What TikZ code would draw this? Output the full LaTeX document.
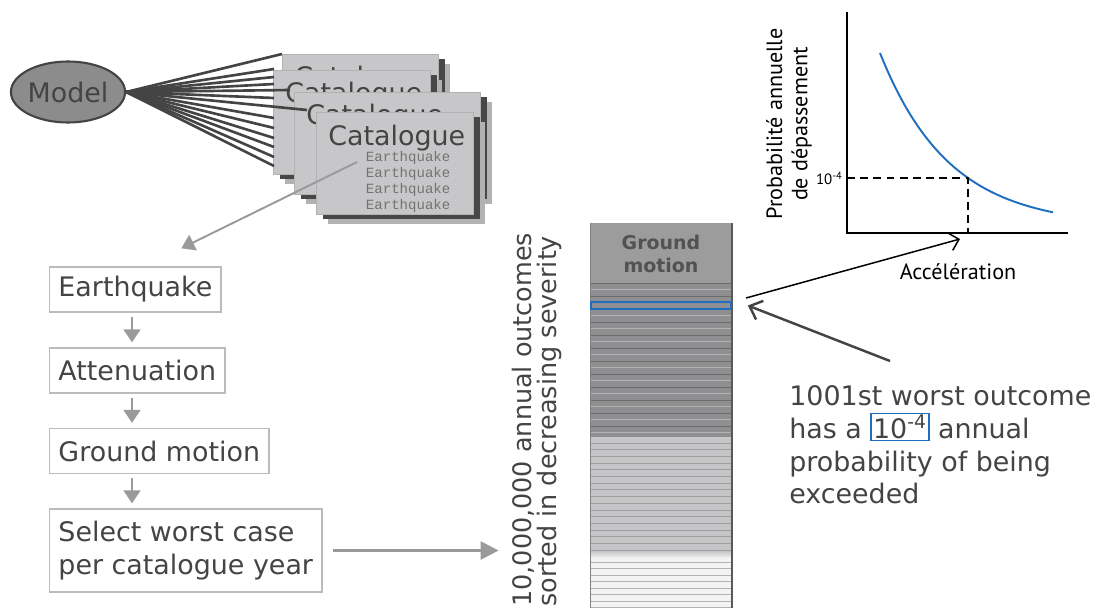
\documentclass[tikz,border=0pt]{standalone}
\usepackage{fontspec}
\setmainfont{DejaVu Sans}
\setmonofont{Liberation Mono}
\newfontfamily\graphfont{PT Sans}
\usetikzlibrary{shapes.geometric, arrows.meta, shadows, positioning, calc}

\definecolor{txt}{HTML}{444444}
\definecolor{boxline}{HTML}{BBBBBB}
\definecolor{arrgray}{HTML}{9A9A9C}
\definecolor{cardfill}{HTML}{C7C7C9}
\definecolor{curveblue}{HTML}{1F6EBF}
\definecolor{stripdark}{HTML}{8F8F91}
\definecolor{striplight}{HTML}{C6C6C8}
\definecolor{stripwhite}{HTML}{F3F3F3}

\tikzset{
  big/.style     = {font=\fontsize{15.3}{18.7}\selectfont, text=txt},
  etape/.style   = {rectangle, draw=boxline, line width=0.8pt, big, anchor=west, inner xsep=5pt, inner ysep=0pt, minimum height=0.9cm, align=left},
  modele/.style  = {ellipse, draw=txt, line width=1.2pt, fill=black!45, big, inner sep=0pt, minimum width=2.28cm, minimum height=1.22cm},
  card/.style    = {rectangle, draw=gray!60, fill=cardfill, anchor=north west, inner sep=0pt,
                    general shadow={fill=gray!60, shadow xshift=0.24cm, shadow yshift=-0.2cm},
                    general shadow={fill=black!72, shadow xshift=0.14cm, shadow yshift=-0.1cm}},
  cattitle/.style= {big, anchor=base west, inner sep=0pt},
  eqlist/.style  = {font=\ttfamily\fontsize{8}{9}\selectfont, text=black!55, anchor=base east, inner sep=0pt},
  fan/.style     = {draw=txt, line width=1.5pt},
  fleche/.style  = {draw=arrgray, line width=1.1pt, -{Triangle[length=0.26cm, width=0.34cm]}},
  entete/.style  = {font=\bfseries\fontsize{10.8}{13.5}\selectfont, text=black!68, align=center, inner sep=0pt},
  worst/.style   = {rectangle, draw=curveblue, line width=0.9pt, inner sep=0pt, minimum width=2.8cm, minimum height=0.14cm},
  axe/.style     = {line width=1.4pt, black},
  graphlbl/.style= {font=\graphfont\fontsize{12.6}{14.4}\selectfont, inner sep=0pt},
  pointe/.style  = {line width=0.85pt, black, -{Straight Barb[length=0.18cm, width=0.36cm]}},
  rappel/.style  = {line width=1.4pt, draw=txt, -{Straight Barb[length=0.22cm, width=0.4cm]}}
}

\begin{document}
\begin{tikzpicture}[x=0.02cm, y=-0.02cm]
  \useasboundingbox (0,0) rectangle (1098,608);

  % modele et catalogues
  \node[modele] (model) at (68,92) {Model};
  \node[card, minimum width=3.12cm, minimum height=2.04cm] (cat1) at (282,54) {};
  \node[cattitle] (ttl1) at ($(cat1.north west)+(12,33)$) {Catalogue};
  \node[card, minimum width=3.14cm, minimum height=2.08cm] (cat2) at (273,70) {};
  \node[cattitle] (ttl2) at ($(cat2.north west)+(12,33)$) {Catalogue};
  \node[card, minimum width=3.72cm, minimum height=2.04cm] (cat3) at (294,92) {};
  \node[cattitle] (ttl3) at ($(cat3.north west)+(12,33)$) {Catalogue};

  \foreach \fx/\fy [count=\i] in {282/54, 274/69, 274/77, 274/84, 290/90, 274/98, 307/110,
                                  274/118, 274/128, 274/138, 274/147, 274/157, 274/166} {
    \coordinate (f\i) at (\fx,\fy);
    \draw[fan] (model.east) -- (f\i);
  }

  \node[card, minimum width=3.14cm, minimum height=2.04cm] (cat4) at (316,112) {};
  \node[cattitle] (ttl4) at ($(cat4.north west)+(12,33)$) {Catalogue};
  \foreach \k in {0,...,3}
    \node[eqlist] (q\k) at ($(cat4.north east)+(-23,49+16*\k)$) {Earthquake};

  % chaine de calcul
  \node[etape] (eq)  at (49,289.5) {Earthquake};
  \node[etape] (att) at (49,370.5) {Attenuation};
  \node[etape] (gm)  at (49,451)   {Ground motion};
  \node[etape, minimum height=1.66cm] (sel) at (49,550.5) {Select worst case\\per catalogue year};

  \coordinate (ax) at (132,0);
  \coordinate (qsrc) at (357,162);
  \coordinate (qtip) at ($(eq.north)+(46,-18)$);
  \draw[fleche] (qsrc) -- (qtip);
  \draw[fleche, shorten <=0.08cm, shorten >=0.1cm] (eq.south -| ax) -- (att.north -| ax);
  \draw[fleche, shorten <=0.08cm, shorten >=0.1cm] (att.south -| ax) -- (gm.north -| ax);
  \draw[fleche, shorten <=0.08cm, shorten >=0.1cm] (gm.south -| ax) -- (sel.north -| ax);

  \node[font=\fontsize{14.5}{14.5}\selectfont, text=txt, rotate=90, anchor=west, align=left, inner sep=0pt]
    (outc) at (537,607) {10,000,000 annual outcomes\\sorted in decreasing severity};
  \draw[fleche, line width=1.4pt, -{Triangle[length=0.36cm, width=0.36cm]}, shorten <=0.2cm, shorten >=0.26cm]
    (sel.east) -- (sel.east -| outc.north);

  % colonne triee
  \fill[black!39] (590,223) rectangle (732,283);
  \fill[stripdark] (590,283) rectangle (732,437);
  \foreach \yy in {283,296,...,437} \draw[black!58, line width=0.5pt] (590,\yy) -- (732,\yy);
  \foreach \yy in {289.5,302.5,...,437} \draw[black!30, line width=0.5pt] (590,\yy) -- (732,\yy);
  \fill[striplight] (590,437) rectangle (732,551);
  \foreach \yy in {443,449.7,...,551} \draw[black!38, line width=0.5pt] (590,\yy) -- (732,\yy);
  \shade[top color=striplight, bottom color=stripwhite] (590,551) rectangle (732,558);
  \fill[stripwhite] (590,558) rectangle (732,608);
  \foreach \yy in {562,568.5,...,608} \draw[black!30, line width=0.5pt] (590,\yy) -- (732,\yy);
  \draw[black!50, line width=0.5pt] (590,223) -- (590,608);
  \draw[black!65, line width=0.6pt] (732,223) -- (732,608);
  \node[entete] (gmhead) at (661,254) {Ground\\motion};
  \node[worst] (worst) at (661,305.5) {};

  % courbe de depassement
  \coordinate (ytop) at (847,12);
  \coordinate (orig) at (847,233);
  \coordinate (xend) at (1068,233);
  \coordinate (p4) at (968,178);
  \draw[axe] (ytop) -- (orig) -- (xend);
  \draw[curveblue, line width=1.1pt] plot[domain=0:173, samples=60, smooth] ({880+\x},{226.4-173.4*exp(-0.0145*\x)});
  \draw[dashed, dash pattern=on 4.5pt off 3pt, line width=0.6pt] (p4 -| orig) -- (p4) -- (p4 |- orig);
  \node[graphlbl, font=\graphfont\fontsize{8.5}{9}\selectfont, anchor=east] (lbl4) at (843,178) {10\textsuperscript{-4}};
  \node[graphlbl, rotate=90, align=center] (ylbl) at (789,124) {Probabilité annuelle\\de dépassement};
  \node[graphlbl] (xlbl) at (958,272) {Accélération};

  \coordinate (blk) at (746,298);
  \coordinate (acc) at (960,239);
  \draw[pointe] (blk) -- (acc);

  % commentaire
  \node[big, anchor=north west, align=left, inner sep=0pt] (note) at (789,385)
    {1001st worst outcome\\has a {\setlength\fboxsep{0.6pt}\setlength\fboxrule{0.9pt}\fcolorbox{curveblue}{white}{10\textsuperscript{-4}}} annual\\probability of being\\exceeded};
  \coordinate (nsrc) at (890,361);
  \draw[rappel] (nsrc) -- ($(worst.east)+(16,0)$);

\end{tikzpicture}
\end{document}
